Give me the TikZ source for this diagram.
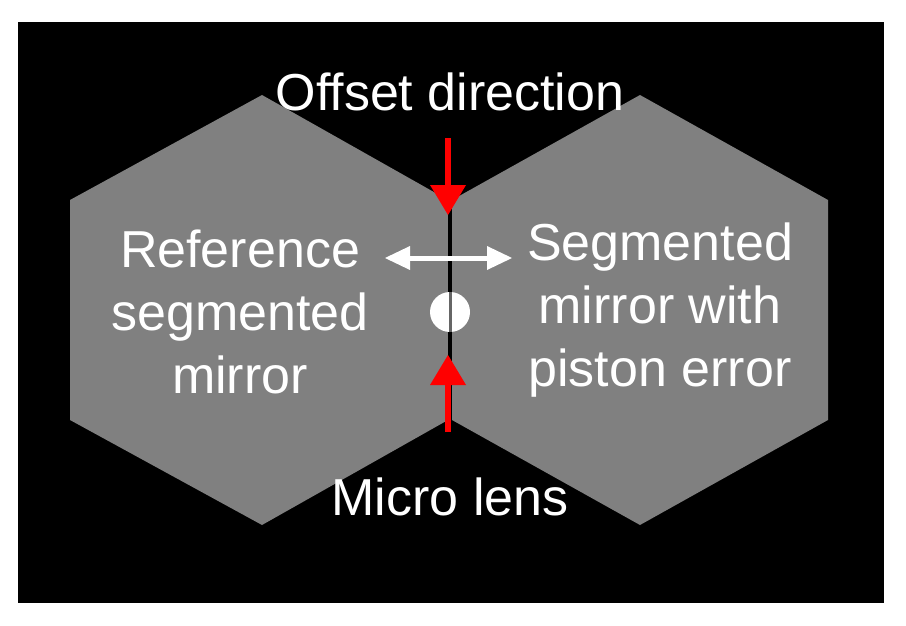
\documentclass[tikz,border=0pt]{standalone}
\usepackage{fontspec}
\setmainfont{Liberation Sans}
\begin{document}
\begin{tikzpicture}[x=1pt,y=-1pt,
  lbl/.style={text=white,font=\fontsize{52}{63}\selectfont,align=center,inner sep=0pt}]
\useasboundingbox[fill=white] (0,0) rectangle (906,626);
\fill[black] (18,22) rectangle (884,603);
\fill[black!50] (262,95) -- (448,200) -- (448,420) -- (262,525) -- (70,420) -- (70,200) -- cycle;
\fill[black!50] (640,95) -- (828,200) -- (828,420) -- (640,525) -- (452,420) -- (452,200) -- cycle;
\coordinate (jt) at (450,200);
\coordinate (jb) at (450,420);
\draw[black,line width=4pt] (jt) -- (jb);
\node[circle,fill=white,minimum size=40pt,inner sep=0pt] (lens) at (450,312) {};
\draw[black!60,line width=3pt] (lens.north) -- (lens.south);
\node[lbl] (off) at (450,92) {Offset direction};
\node[lbl] (ref) at (240,312) {Reference\\segmented\\mirror};
\node[lbl] (seg) at (660,310) {Segmented\\mirror with\\piston error};
\node[lbl] (ml) at (450,497) {Micro lens};
\coordinate (t1) at (448,138);
\coordinate (t2) at (448,215);
\coordinate (b1) at (448,432);
\coordinate (b2) at (448,355);
\draw[red,line width=6pt] (t1) -- (448,190);
\fill[red] (430,185) -- (466,185) -- (t2) -- cycle;
\draw[red,line width=6pt] (b1) -- (448,380);
\fill[red] (430,385) -- (466,385) -- (b2) -- cycle;
\coordinate (l) at (385,258);
\coordinate (r) at (512,258);
\draw[white,line width=5pt] (405,258) -- (492,258);
\fill[white] (l) -- (410,246) -- (410,270) -- cycle;
\fill[white] (r) -- (487,246) -- (487,270) -- cycle;
\end{tikzpicture}
\end{document}
